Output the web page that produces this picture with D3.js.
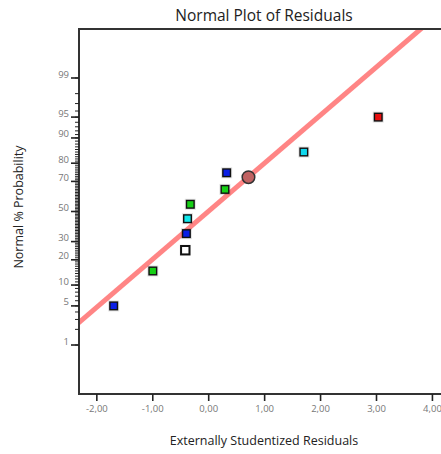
<!DOCTYPE html>
<html>
<head>
<meta charset="utf-8">
<script src="https://cdn.jsdelivr.net/npm/d3@7"></script>
<style>
  html, body { margin: 0; padding: 0; background: #fff; }
  svg { display: block; }
  text { font-family: "Open Sans", "DejaVu Sans", sans-serif; }
</style>
</head>
<body>
<svg id="chart" width="441" height="454"></svg>
<script>
// Externally studentized residuals, sorted, with their normal % probability
const residuals = [-1.69, -0.99, -0.41, -0.39, -0.37, -0.32, 0.30, 0.33, 1.71, 3.04];
const probabilities = [5, 15, 25, 35, 45, 55, 65, 75, 85, 95];
const pointColors = ["#0a1ee6", "#16d016", "#ffffff", "#0a1ee6", "#10e8ec", "#16d016", "#16d016", "#0a1ee6", "#10d8ee", "#e81010"];
const whiteIndex = 2;

// Highlighted run
const highlightResidual = [0.72];
const highlightProbability = [72.5];

// Reference line: residual = lineCenter + lineSpread * z
const lineCenter = [0.0];
const lineSpread = [1.195];

const xTicks = [-2, -1, 0, 1, 2, 3, 4];
const yMajorTicks = [1, 5, 10, 20, 30, 50, 70, 80, 90, 95, 99];
const yMinorTicks = d3.range(1, 100);

const margin = { left: 79, top: 29, right: 0, bottom: 60 };
const W = 441, H = 454;
const plotBottom = 394;

const svg = d3.select("#chart");

// Inverse standard normal CDF (Acklam's rational approximation)
function probit(p) {
  const a = [-3.969683028665376e+01, 2.209460984245205e+02, -2.759285104469687e+02, 1.383577518672690e+02, -3.066479806614716e+01, 2.506628277459239e+00];
  const b = [-5.447609879822406e+01, 1.615858368580409e+02, -1.556989798598866e+02, 6.680131188771011e+01, -1.328068155288572e+01];
  const c = [-7.784894002430293e-03, -3.223964580411365e-01, -2.400758277161838e+00, -2.549671669969887e+00, 4.374664141464968e+00, 2.938163982698783e+00];
  const d = [7.784695709041462e-03, 3.224671290700398e-01, 2.445134137142996e+00, 3.754408661907416e+00];
  const pl = 0.02425, ph = 1 - pl;
  let q, r;
  if (p < pl) {
    q = Math.sqrt(-2 * Math.log(p));
    return (((((c[0]*q+c[1])*q+c[2])*q+c[3])*q+c[4])*q+c[5]) / ((((d[0]*q+d[1])*q+d[2])*q+d[3])*q+1);
  } else if (p <= ph) {
    q = p - 0.5; r = q * q;
    return (((((a[0]*r+a[1])*r+a[2])*r+a[3])*r+a[4])*r+a[5])*q / (((((b[0]*r+b[1])*r+b[2])*r+b[3])*r+b[4])*r+1);
  } else {
    q = Math.sqrt(-2 * Math.log(1 - p));
    return -(((((c[0]*q+c[1])*q+c[2])*q+c[3])*q+c[4])*q+c[5]) / ((((d[0]*q+d[1])*q+d[2])*q+d[3])*q+1);
  }
}

const x = d3.scaleLinear().domain([-2.31, 4.18]).range([margin.left, W + 1]);
const z = d3.scaleLinear().domain([-3.18, 3.18]).range([plotBottom, margin.top]);
const yp = pct => z(probit(pct / 100));

// Clip for plot contents
svg.append("clipPath").attr("id", "plotClip")
  .append("rect").attr("x", margin.left).attr("y", margin.top)
  .attr("width", W - margin.left).attr("height", plotBottom - margin.top);

// Title
svg.append("text")
  .attr("x", 264).attr("y", 21)
  .attr("text-anchor", "middle")
  .attr("font-size", 15.5).attr("fill", "#222")
  .text("Normal Plot of Residuals");

// Reference line
const zs = z.domain();
const lineData = [zs[0] - 1, zs[1] + 1].map(v => ({ r: lineCenter[0] + lineSpread[0] * v, z: v }));
svg.append("g").attr("clip-path", "url(#plotClip)")
  .append("path")
  .datum(lineData)
  .attr("d", d3.line().x(d => x(d.r)).y(d => z(d.z)))
  .attr("stroke", "#ff7070").attr("stroke-opacity", 0.85)
  .attr("stroke-width", 5).attr("fill", "none");

// Frame: top, left and bottom lines
svg.append("path")
  .attr("d", `M${W},${margin.top}H${margin.left}V${plotBottom}H${W}`)
  .attr("fill", "none").attr("stroke", "#333").attr("stroke-width", 2);

// Y axis: minor and major ticks
const yAxisG = svg.append("g").attr("transform", `translate(${margin.left},0)`);
yAxisG.selectAll("line.minor").data(yMinorTicks).join("line")
  .attr("class", "minor")
  .attr("x1", -4).attr("x2", 0)
  .attr("y1", d => yp(d)).attr("y2", d => yp(d))
  .attr("stroke", "#222").attr("stroke-width", 1);
yAxisG.selectAll("line.major").data(yMajorTicks).join("line")
  .attr("class", "major")
  .attr("x1", -8).attr("x2", 0)
  .attr("y1", d => yp(d)).attr("y2", d => yp(d))
  .attr("stroke", "#222").attr("stroke-width", 1.6);
yAxisG.selectAll("text").data(yMajorTicks).join("text")
  .attr("x", -10).attr("y", d => yp(d))
  .attr("dy", "-0.05em")
  .attr("text-anchor", "end")
  .attr("font-size", 9.5).attr("fill", "#777")
  .text(d => d);

// X axis
const fmt = v => d3.format(".2f")(v).replace(".", ",").replace("−", "-");
const xAxis = d3.axisBottom(x).tickValues(xTicks).tickSize(7).tickSizeOuter(0).tickFormat(fmt);
const xg = svg.append("g").attr("transform", `translate(0,${plotBottom})`).call(xAxis);
xg.select(".domain").remove();
xg.selectAll(".tick line").attr("stroke", "#222").attr("stroke-width", 1.6);
xg.selectAll(".tick text")
  .attr("font-family", "\"Open Sans\", sans-serif")
  .attr("font-size", 9.5).attr("fill", "#777").attr("dy", "0.95em").attr("y", 9);

// Axis titles
svg.append("text")
  .attr("x", 264).attr("y", 445)
  .attr("text-anchor", "middle")
  .attr("font-size", 12.5).attr("fill", "#222")
  .text("Externally Studentized Residuals");
svg.append("text")
  .attr("transform", "translate(23,207) rotate(-90)")
  .attr("text-anchor", "middle")
  .attr("font-size", 12.5).attr("fill", "#222")
  .text("Normal % Probability");

// Points
const pts = residuals.map((r, i) => ({ r, p: probabilities[i], c: pointColors[i], i }));
const ptsG = svg.append("g");
ptsG.selectAll("rect.halo").data(pts).join("rect")
  .attr("class", "halo")
  .attr("x", d => x(d.r) - 5.5).attr("y", d => yp(d.p) - 5.5)
  .attr("width", 11).attr("height", 11)
  .attr("fill", "#000").attr("opacity", 0.12);
ptsG.selectAll("rect.pt").data(pts).join("rect")
  .attr("class", "pt")
  .attr("x", d => x(d.r) - (d.i === whiteIndex ? 4.2 : 3.8))
  .attr("y", d => yp(d.p) - (d.i === whiteIndex ? 4.2 : 3.8))
  .attr("width", d => d.i === whiteIndex ? 8.4 : 7.6)
  .attr("height", d => d.i === whiteIndex ? 8.4 : 7.6)
  .attr("fill", d => d.c)
  .attr("stroke", "#111")
  .attr("stroke-width", d => d.i === whiteIndex ? 2 : 1.4);

// Highlight circle
svg.append("g").selectAll("circle").data(highlightResidual).join("circle")
  .attr("cx", d => x(d)).attr("cy", (d, i) => yp(highlightProbability[i]))
  .attr("r", 6.3)
  .attr("fill", "#c06262").attr("stroke", "#333").attr("stroke-width", 1.5);
</script>
</body>
</html>
